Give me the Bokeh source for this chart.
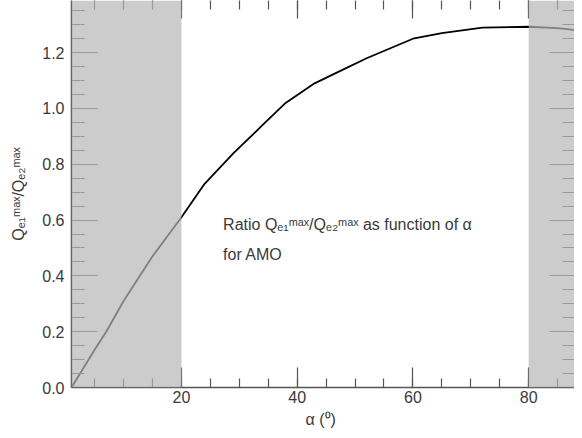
from bokeh.plotting import figure
from bokeh.models import Range1d, LinearAxis, SingleIntervalTicker, BoxAnnotation, PrintfTickFormatter
from bokeh.core.properties import value
from bokeh.embed import file_html
from bokeh.resources import INLINE

# data
alpha = [1, 5, 7, 10, 15, 20, 24, 29, 34, 38, 43, 48, 52, 56, 60, 65, 72, 80, 85, 90]
ratio = [0.0, 0.135, 0.2, 0.31, 0.47, 0.61, 0.73, 0.84, 0.94, 1.02, 1.09, 1.14,
         1.18, 1.215, 1.25, 1.27, 1.29, 1.293, 1.288, 1.277]
shade_left_end = 20
shade_right_start = 80
note_lines = ["Ratio Q\u2091\u2081\u1d50\u1d43\u02e3/Q\u2091\u2082\u1d50\u1d43\u02e3 as function of \u03b1", "for AMO"]
note_x = [27.2, 27.2]
note_y = [0.585, 0.477]

FONT = "Liberation Sans"
TXT = "#3a3a3a"
AX = "#555555"

p = figure(width=574, height=430, output_backend="svg", toolbar_location=None,
           x_range=Range1d(1, 87.92), y_range=Range1d(0, 1.387),
           min_border_left=71, min_border_right=0, min_border_top=0, min_border_bottom=43,
           x_axis_location=None, y_axis_location=None)
p.outline_line_color = None
p.xgrid.visible = False
p.ygrid.visible = False
p.background_fill_color = "white"
p.border_fill_color = "white"

def style(ax, mj_in, mn_in, labels=True):
    ax.major_tick_in = mj_in
    ax.major_tick_out = 0
    ax.minor_tick_in = mn_in
    ax.minor_tick_out = 0
    ax.major_tick_line_color = AX
    ax.minor_tick_line_color = AX
    ax.major_tick_line_width = 1.2
    ax.minor_tick_line_width = 1.2
    ax.axis_line_color = AX
    ax.axis_line_width = 1.6
    if labels:
        ax.major_label_text_font = FONT
        ax.major_label_text_font_size = "16px"
        ax.major_label_text_color = TXT
        ax.axis_label_text_font = FONT
        ax.axis_label_text_font_size = "16px"
        ax.axis_label_text_font_style = "normal"
        ax.axis_label_text_color = TXT
    else:
        ax.major_label_text_font_size = "1px"
        ax.major_label_text_color = None
        ax.major_label_standoff = 0
        ax.axis_line_color = None

xb = LinearAxis(ticker=SingleIntervalTicker(interval=20, num_minor_ticks=4),
                axis_label="\u03b1  (\u2070)")
style(xb, 20, 9)
xb.major_label_standoff = 3
xb.axis_label_standoff = 5
p.add_layout(xb, "below")

yl = LinearAxis(ticker=SingleIntervalTicker(interval=0.2, num_minor_ticks=4),
                formatter=PrintfTickFormatter(format="%.1f"),
                axis_label="Q\u2091\u2081\u1d50\u1d43\u02e3/Q\u2091\u2082\u1d50\u1d43\u02e3")
style(yl, 26, 13)
yl.major_label_standoff = 7
yl.axis_label_standoff = 12
p.add_layout(yl, "left")

xa = LinearAxis(ticker=SingleIntervalTicker(interval=20, num_minor_ticks=4))
style(xa, 18, 9, labels=False)
p.add_layout(xa, "above")

yr = LinearAxis(ticker=SingleIntervalTicker(interval=0.2, num_minor_ticks=4))
style(yr, 25, 12, labels=False)
p.add_layout(yr, "right")

p.line(alpha, ratio, line_color="black", line_width=1.8)

p.text(x=note_x, y=note_y, text=note_lines, text_font=value(FONT), text_font_size="16px",
       text_color=TXT, text_baseline="alphabetic", text_align="left")

p.add_layout(BoxAnnotation(right=shade_left_end, fill_color="#b6b6b6", fill_alpha=0.7,
                           line_color=None, level="overlay"))
p.add_layout(BoxAnnotation(left=shade_right_start, fill_color="#b6b6b6", fill_alpha=0.7,
                           line_color=None, level="overlay"))

open("out.html", "w").write(file_html(p, INLINE))
